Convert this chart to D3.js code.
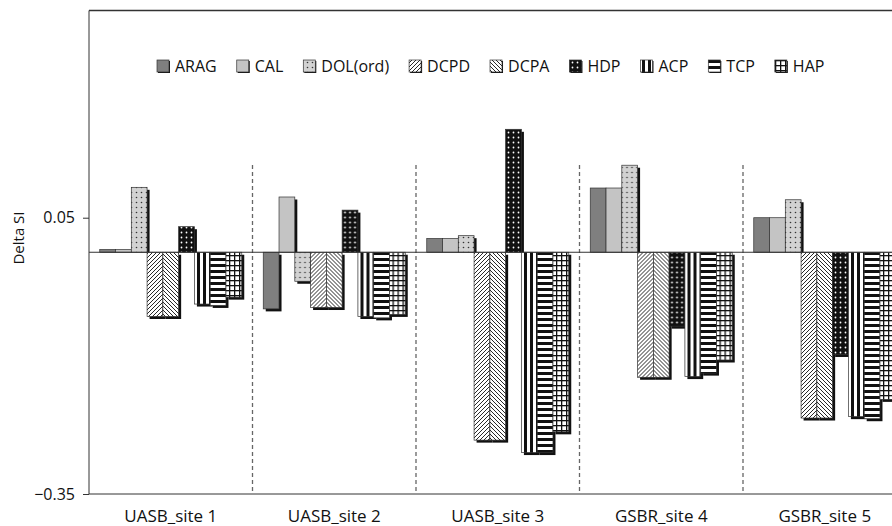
<!DOCTYPE html>
<html>
<head>
<meta charset="utf-8">
<script src="https://cdn.jsdelivr.net/npm/d3@7"></script>
<style>
  body { margin: 0; background: #fff; }
  text { font-family: "Open Sans", sans-serif; fill: #111; }
</style>
</head>
<body>
<svg id="chart" width="892" height="526"></svg>
<script>
// data
const sites = ['UASB_site 1', 'UASB_site 2', 'UASB_site 3', 'GSBR_site 4', 'GSBR_site 5'];
const series = ['ARAG', 'CAL', 'DOL(ord)', 'DCPD', 'DCPA', 'HDP', 'ACP', 'TCP', 'HAP'];
const ARAG = [0.004, -0.082, 0.020, 0.093, 0.050];
const CAL  = [0.004, 0.080, 0.020, 0.093, 0.050];
const DOL  = [0.094, -0.042, 0.024, 0.126, 0.076];
const DCPD = [-0.093, -0.080, -0.272, -0.181, -0.240];
const DCPA = [-0.093, -0.080, -0.272, -0.181, -0.240];
const HDP  = [0.037, 0.061, 0.178, -0.107, -0.148];
const ACP  = [-0.075, -0.093, -0.290, -0.180, -0.238];
const TCP  = [-0.077, -0.095, -0.290, -0.175, -0.241];
const HAP  = [-0.065, -0.090, -0.260, -0.156, -0.213];
const values = [ARAG, CAL, DOL, DCPD, DCPA, HDP, ACP, TCP, HAP];
const yTicks = [-0.35, 0.05];

const svg = d3.select('#chart');
const defs = svg.append('defs');

// fill patterns, one per series
function pat(id, w, h, bg) {
    const p = defs.append('pattern').attr('id', id)
        .attr('patternUnits', 'userSpaceOnUse').attr('width', w).attr('height', h);
    p.append('rect').attr('width', w).attr('height', h).attr('fill', bg);
    return p;
}
pat('p-arag', 4, 4, '#7f7f7f');
pat('p-cal', 4, 4, '#c4c4c4');
pat('p-dol', 5, 5, '#d2d2d2').append('circle').attr('cx', 2.5).attr('cy', 2.5).attr('r', 0.8).attr('fill', '#333');
pat('p-dcpd', 4, 4, '#fff').append('path').attr('d', 'M-1,1 L1,-1 M0,4 L4,0 M3,5 L5,3')
    .attr('stroke', '#111').attr('stroke-width', 0.9);
pat('p-dcpa', 4, 4, '#fff').append('path').attr('d', 'M-1,3 L1,5 M0,0 L4,4 M3,-1 L5,1')
    .attr('stroke', '#111').attr('stroke-width', 0.9);
pat('p-hdp', 5, 5, '#111').append('circle').attr('cx', 2.5).attr('cy', 2.5).attr('r', 0.9).attr('fill', '#fff');
pat('p-acp', 6, 6, '#fff').append('rect').attr('width', 3).attr('height', 6).attr('fill', '#111');
pat('p-tcp', 6, 6, '#fff').append('rect').attr('width', 6).attr('height', 3).attr('fill', '#111');
const hap = pat('p-hap', 5, 5, '#fff');
hap.append('rect').attr('width', 1.3).attr('height', 5).attr('fill', '#111');
hap.append('rect').attr('width', 5).attr('height', 1.3).attr('fill', '#111');
const fills = ['p-arag', 'p-cal', 'p-dol', 'p-dcpd', 'p-dcpa', 'p-hdp', 'p-acp', 'p-tcp', 'p-hap'];

const plotLeft = 89, plotTop = 10.5, plotBottom = 494;
const groupW = 163.5;

const x0 = d3.scaleBand().domain(sites).range([plotLeft, plotLeft + groupW * sites.length]);
const x1 = d3.scaleBand().domain(series).range([10.75, groupW - 10.75]);
const y = d3.scaleLinear().domain([-0.35, 0.35]).range([plotBottom, plotTop]);

// frame: top border
svg.append('line').attr('x1', plotLeft).attr('x2', 892).attr('y1', plotTop).attr('y2', plotTop)
    .attr('stroke', '#333').attr('stroke-width', 1.3);

// group separators
svg.selectAll('.sep').data(sites.slice(1)).enter().append('line')
    .attr('x1', d => x0(d)).attr('x2', d => x0(d))
    .attr('y1', 165).attr('y2', plotBottom)
    .attr('stroke', '#666').attr('stroke-width', 1.3).attr('stroke-dasharray', '4,3');

// bars
const groups = svg.selectAll('.grp').data(sites).enter().append('g')
    .attr('transform', d => `translate(${x0(d)},0)`);

series.forEach((s, si) => {
    const bw = x1.bandwidth();
    groups.each(function(d, gi) {
        const v = values[si][gi];
        const g = d3.select(this);
        const y0 = y(Math.max(0, v)), h = Math.abs(y(v) - y(0));
        // shadow
        g.append('rect').attr('x', x1(s) + 2.5).attr('y', y0 + 2.5)
            .attr('width', bw).attr('height', Math.max(0, h - (v > 0 ? 2.5 : 0)))
            .attr('fill', '#111');
        g.append('rect').attr('x', x1(s)).attr('y', y0)
            .attr('width', bw).attr('height', h)
            .attr('fill', `url(#${fills[si]})`)
            .attr('stroke', '#333').attr('stroke-width', 0.7);
    });
});

// zero line
svg.append('line').attr('x1', plotLeft).attr('x2', 892).attr('y1', y(0)).attr('y2', y(0))
    .attr('stroke', '#333').attr('stroke-width', 1);

// y axis
const yAxis = svg.append('g').attr('transform', `translate(${plotLeft},0)`)
    .call(d3.axisLeft(y).tickValues(yTicks).tickFormat(d3.format('.2f')).tickSizeOuter(0).tickSize(6).tickPadding(8));
yAxis.select('.domain').attr('stroke', '#333').attr('d', `M0,${plotTop}V${plotBottom}`);
yAxis.selectAll('.tick line').attr('stroke', '#333');
yAxis.selectAll('.tick text').attr('font-size', 16).attr('font-family', '"Open Sans", sans-serif').attr('fill', '#111');

// x axis
const xAxis = svg.append('g').attr('transform', `translate(0,${plotBottom})`)
    .call(d3.axisBottom(x0).tickSize(0).tickPadding(16));
xAxis.select('.domain').attr('stroke', '#333').attr('d', `M${plotLeft},0H892`);
xAxis.selectAll('.tick text').attr('font-size', 17).attr('font-family', '"Open Sans", sans-serif').attr('fill', '#111');

// y title
svg.append('text').attr('transform', 'translate(24,238) rotate(-90)')
    .attr('text-anchor', 'middle').attr('font-size', 15).text('Delta SI');

// legend
const legend = svg.append('g');
let lx = 157;
series.forEach((s, si) => {
    legend.append('rect').attr('x', lx + 1).attr('y', 61).attr('width', 12).attr('height', 12)
        .attr('fill', '#111');
    legend.append('rect').attr('x', lx).attr('y', 60).attr('width', 12).attr('height', 12)
        .attr('fill', `url(#${fills[si]})`).attr('stroke', '#333').attr('stroke-width', 0.7);
    const t = legend.append('text').attr('x', lx + 18).attr('y', 72).attr('font-size', 16).text(s);
    lx += 18 + t.node().getComputedTextLength() + 20;
});
</script>
</body>
</html>
